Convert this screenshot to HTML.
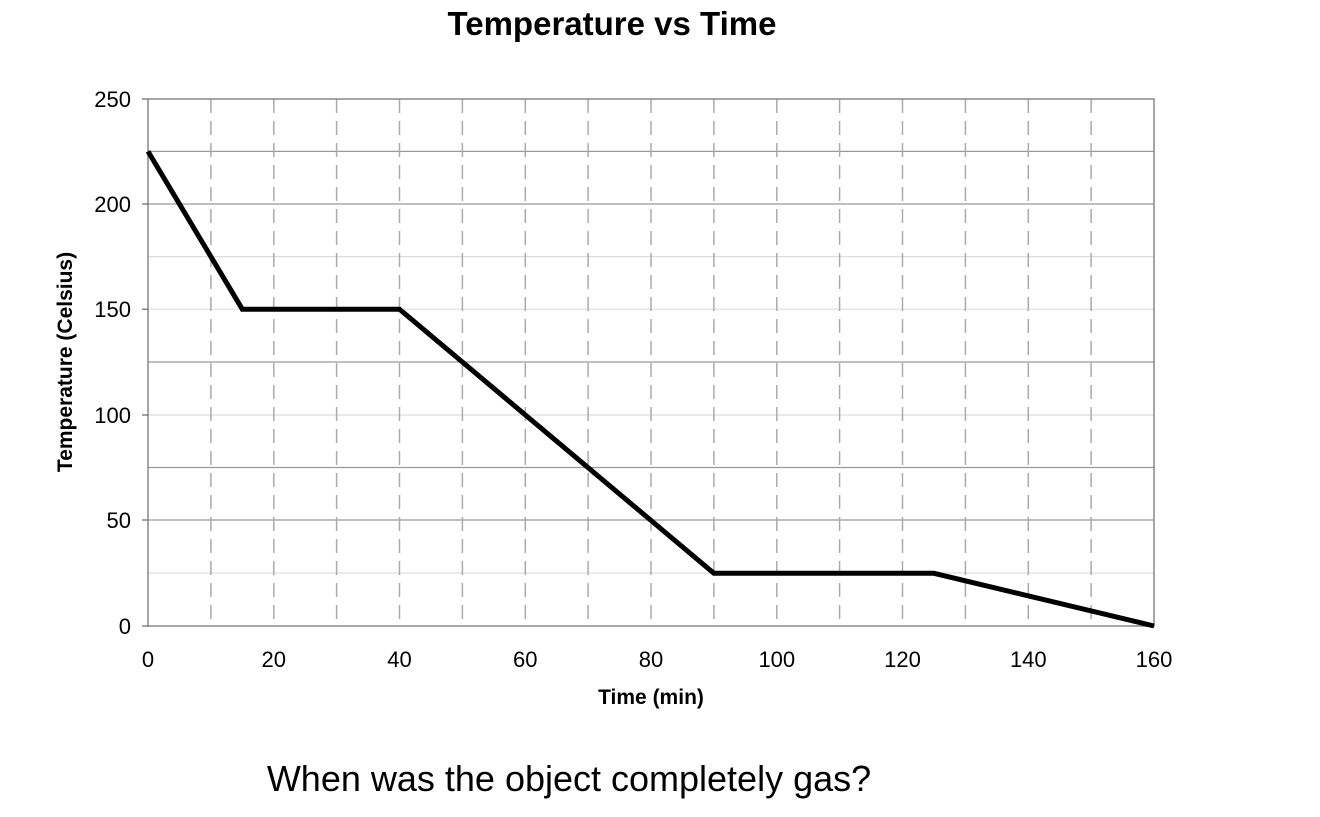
<!DOCTYPE html>
<html><head><meta charset="utf-8"><style>body{margin:0;background:#fff;}</style></head>
<body>
<svg width="1320" height="812" xmlns="http://www.w3.org/2000/svg" font-family="Liberation Sans, Arial, sans-serif">
<rect width="1320" height="812" fill="#fff"/>
<text x="612" y="35" text-anchor="middle" font-size="33" font-weight="bold">Temperature vs Time</text>
<g stroke-width="1.2">
<line x1="148" y1="151.4" x2="1154" y2="151.4" stroke="#999"/>
<line x1="148" y1="204" x2="1154" y2="204" stroke="#999"/>
<line x1="148" y1="256.6" x2="1154" y2="256.6" stroke="#ddd"/>
<line x1="148" y1="309.2" x2="1154" y2="309.2" stroke="#ddd"/>
<line x1="148" y1="362" x2="1154" y2="362" stroke="#999"/>
<line x1="148" y1="415" x2="1154" y2="415" stroke="#ddd"/>
<line x1="148" y1="467.5" x2="1154" y2="467.5" stroke="#999"/>
<line x1="148" y1="520" x2="1154" y2="520" stroke="#999"/>
<line x1="148" y1="573" x2="1154" y2="573" stroke="#ddd"/>
</g>
<g stroke="#aaa" stroke-width="1.5" stroke-dasharray="14,8">
<line x1="210.9" y1="99" x2="210.9" y2="626"/><line x1="273.8" y1="99" x2="273.8" y2="626"/>
<line x1="336.6" y1="99" x2="336.6" y2="626"/><line x1="399.5" y1="99" x2="399.5" y2="626"/>
<line x1="462.4" y1="99" x2="462.4" y2="626"/><line x1="525.3" y1="99" x2="525.3" y2="626"/>
<line x1="588.1" y1="99" x2="588.1" y2="626"/><line x1="651" y1="99" x2="651" y2="626"/>
<line x1="713.9" y1="99" x2="713.9" y2="626"/><line x1="776.8" y1="99" x2="776.8" y2="626"/>
<line x1="839.6" y1="99" x2="839.6" y2="626"/><line x1="902.5" y1="99" x2="902.5" y2="626"/>
<line x1="965.4" y1="99" x2="965.4" y2="626"/><line x1="1028.3" y1="99" x2="1028.3" y2="626"/>
<line x1="1091.1" y1="99" x2="1091.1" y2="626"/>
</g>
<rect x="148" y="99" width="1006" height="527" fill="none" stroke="#888" stroke-width="1.5"/>
<g stroke="#666" stroke-width="1.2">
<line x1="142" y1="99" x2="148" y2="99"/><line x1="142" y1="204" x2="148" y2="204"/>
<line x1="142" y1="309.2" x2="148" y2="309.2"/><line x1="142" y1="415" x2="148" y2="415"/>
<line x1="142" y1="520" x2="148" y2="520"/><line x1="142" y1="626" x2="148" y2="626"/>
</g>
<g font-size="22" text-anchor="end" fill="#000">
<text x="131" y="107">250</text><text x="131" y="212">200</text><text x="131" y="317">150</text>
<text x="131" y="423">100</text><text x="131" y="528">50</text><text x="131" y="634">0</text>
</g>
<g font-size="22" text-anchor="middle" fill="#000">
<text x="148" y="667">0</text><text x="273.8" y="667">20</text><text x="399.5" y="667">40</text>
<text x="525.3" y="667">60</text><text x="651" y="667">80</text><text x="776.8" y="667">100</text>
<text x="902.5" y="667">120</text><text x="1028.3" y="667">140</text><text x="1154" y="667">160</text>
</g>
<text x="651" y="704" text-anchor="middle" font-size="21" font-weight="bold">Time (min)</text>
<text transform="translate(72,362) rotate(-90)" text-anchor="middle" font-size="21" font-weight="bold">Temperature (Celsius)</text>
<polyline points="148,151.4 242.3,309.2 399.5,309.2 713.9,573.3 933.9,573.3 1154,626" fill="none" stroke="#000" stroke-width="5" stroke-linejoin="miter"/>
<text x="569" y="791" text-anchor="middle" font-size="36">When was the object completely gas?</text>
</svg>
</body></html>
